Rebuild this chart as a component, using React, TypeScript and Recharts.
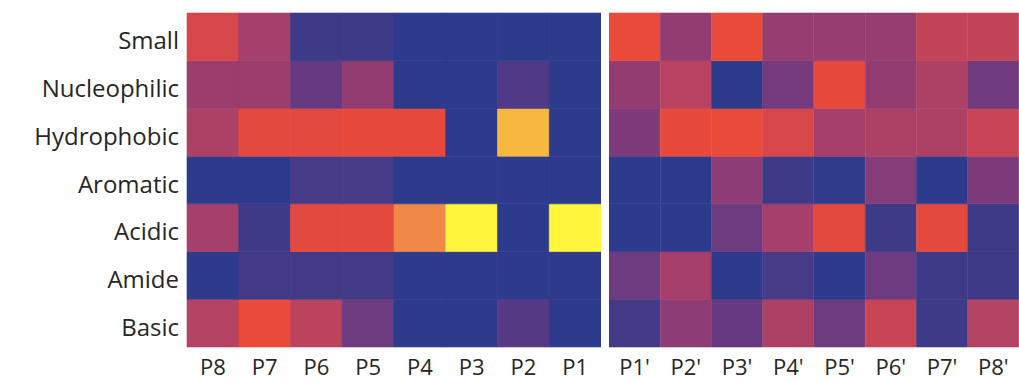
import React from 'react';
import { BarChart, Bar, XAxis, YAxis, Cell } from 'recharts';

const rowNames = ['Small', 'Nucleophilic', 'Hydrophobic', 'Aromatic', 'Acidic', 'Amide', 'Basic'];
const leftCols = ['P8', 'P7', 'P6', 'P5', 'P4', 'P3', 'P2', 'P1'];
const rightCols = ["P1'", "P2'", "P3'", "P4'", "P5'", "P6'", "P7'", "P8'"];

// each row: 8 values for P8..P1 followed by 8 values for P1'..P8' (0 = navy, 1 = yellow)
const small = [0.72, 0.58, 0.15, 0.15, 0.02, 0.02, 0.02, 0.02, 0.78, 0.52, 0.78, 0.53, 0.53, 0.53, 0.66, 0.66];
const nucleophilic = [0.55, 0.55, 0.35, 0.52, 0.02, 0.02, 0.25, 0.02, 0.52, 0.63, 0.02, 0.42, 0.77, 0.52, 0.6, 0.4];
const hydrophobic = [0.6, 0.76, 0.76, 0.77, 0.77, 0.02, 0.93, 0.02, 0.45, 0.77, 0.78, 0.72, 0.58, 0.6, 0.6, 0.68];
const aromatic = [0.02, 0.02, 0.2, 0.2, 0.02, 0.02, 0.02, 0.02, 0.02, 0.02, 0.5, 0.15, 0.05, 0.48, 0.03, 0.45];
const acidic = [0.58, 0.15, 0.76, 0.76, 0.86, 1.0, 0.02, 1.0, 0.02, 0.02, 0.38, 0.58, 0.76, 0.15, 0.76, 0.15];
const amide = [0.03, 0.18, 0.18, 0.18, 0.03, 0.03, 0.03, 0.03, 0.38, 0.58, 0.03, 0.2, 0.03, 0.38, 0.15, 0.15];
const basic = [0.62, 0.78, 0.64, 0.38, 0.02, 0.02, 0.28, 0.02, 0.18, 0.5, 0.35, 0.6, 0.38, 0.68, 0.15, 0.62];

const rowValues = [small, nucleophilic, hydrophobic, aromatic, acidic, amide, basic];

const stops: [number, string][] = [
  [0.0, '#2a3b8e'],
  [0.15, '#3d3a88'],
  [0.3, '#5a3a84'],
  [0.45, '#7d3b7c'],
  [0.55, '#9c3d6e'],
  [0.62, '#b44262'],
  [0.7, '#d0454f'],
  [0.78, '#ea4a3a'],
  [0.86, '#f08848'],
  [0.93, '#f8b840'],
  [1.0, '#fff53a'],
];

function hexToRgb(h: string) {
  return [parseInt(h.slice(1, 3), 16), parseInt(h.slice(3, 5), 16), parseInt(h.slice(5, 7), 16)];
}

function colorFor(v: number) {
  for (let i = 1; i < stops.length; i++) {
    if (v <= stops[i][0]) {
      const [v0, c0] = stops[i - 1];
      const [v1, c1] = stops[i];
      const t = (v - v0) / (v1 - v0);
      const a = hexToRgb(c0);
      const b = hexToRgb(c1);
      const c = a.map((x, k) => Math.round(x + (b[k] - x) * t));
      return `rgb(${c[0]},${c[1]},${c[2]})`;
    }
  }
  return stops[stops.length - 1][1];
}

const FONT = '"Open Sans", Lato, sans-serif';

function buildData(cols: string[], offset: number) {
  return cols.map((c, ci) => {
    const d: any = { pos: c };
    rowValues.forEach((vals, ri) => {
      d['r' + ri] = 1;
      d['v' + ri] = vals[offset + ci];
    });
    return d;
  });
}

// stack from bottom (Basic) to top (Small)
const stackOrder = [6, 5, 4, 3, 2, 1, 0];

function Panel({ cols, offset, width, showY }: { cols: string[]; offset: number; width: number; showY: boolean }) {
  const data = buildData(cols, offset);
  return (
    <BarChart
      width={width}
      height={382}
      data={data}
      margin={{ top: 13, right: 0, bottom: 0, left: 0 }}
      barCategoryGap={0}
      barGap={0}
    >
      <XAxis
        dataKey="pos"
        axisLine={false}
        tickLine={false}
        height={35}
        interval={0}
        tickSize={6}
        tickMargin={2}
        tick={{ fontFamily: FONT, fontSize: 22, fontWeight: 500, fill: '#262626', dy: 4 }}
      />
      <YAxis
        type="number"
        domain={[0, 7]}
        ticks={[0.5, 1.5, 2.5, 3.5, 4.5, 5.5, 6.5]}
        tickFormatter={(v: number) => rowNames[6 - Math.floor(v)]}
        hide={!showY}
        width={showY ? 187 : 0}
        axisLine={false}
        tickLine={false}
        interval={0}
        tick={{ fontFamily: FONT, fontSize: 24, fontWeight: 500, fill: '#262626', dy: 4 }}
      />
      {stackOrder.map((ri) => (
        <Bar key={ri} dataKey={'r' + ri} stackId="s" isAnimationActive={false}>
          {data.map((d: any, i: number) => {
            const f = colorFor(d['v' + ri]);
            return <Cell key={i} fill={f} stroke={f} strokeWidth={0.6} />;
          })}
        </Bar>
      ))}
    </BarChart>
  );
}

export default function App() {
  return (
    <div style={{ position: 'absolute', left: 0, top: 0, width: 1019, height: 382, background: '#fff' }}>
      <div style={{ position: 'absolute', left: 0, top: 0 }}>
        <Panel cols={leftCols} offset={0} width={601} showY={true} />
      </div>
      <div style={{ position: 'absolute', left: 609, top: 0 }}>
        <Panel cols={rightCols} offset={8} width={410} showY={false} />
      </div>
    </div>
  );
}
